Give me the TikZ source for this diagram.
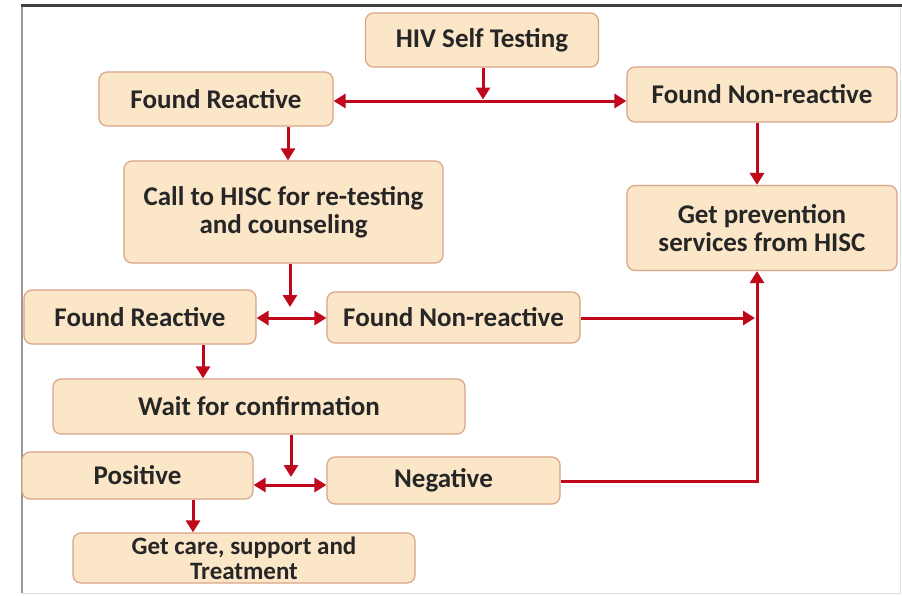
\documentclass[tikz,border=0pt]{standalone}
\usepackage{fontspec}
\setmainfont{Carlito}
\usetikzlibrary{arrows.meta}
\definecolor{boxfill}{HTML}{FCE6C8}
\definecolor{boxline}{HTML}{D9A487}
\definecolor{arrred}{HTML}{C0081C}
\definecolor{txt}{HTML}{262626}
\tikzset{
  box/.style={draw=boxline, fill=boxfill, line width=1.2pt, rounded corners=8pt,
    inner sep=0pt, align=center, text=txt,
    font=\fontsize{27}{28}\selectfont\bfseries},
  arr/.style={draw=arrred, line width=3pt, -{Triangle[length=12pt,width=14pt]}},
  darr/.style={draw=arrred, line width=3pt, {Triangle[length=12pt,width=14pt]}-{Triangle[length=12pt,width=14pt]}},
  plain/.style={draw=arrred, line width=3pt}
}
\begin{document}
\begin{tikzpicture}[x=1pt,y=-1pt]
\useasboundingbox (0,0) rectangle (902,595);
\fill[white] (0,0) rectangle (902,595);
% frame
\draw[gray!80, line width=1.8pt] (22,5) -- (22,593);
\draw[gray!25, line width=1pt] (22,593) -- (900,593) -- (900,5);
\draw[black!75, line width=3pt] (21,5) -- (902,5);

% nodes
\node[box, minimum width=233pt, minimum height=54pt] (hiv) at (482,40) {HIV Self Testing};
\node[box, minimum width=234pt, minimum height=54pt] (fr1) at (216,99) {Found Reactive};
\node[box, minimum width=270pt, minimum height=55pt] (fn1) at (762,94.5) {Found Non-reactive};
\node[box, minimum width=319pt, minimum height=102pt] (call) at (283.5,212) {Call to HISC for re-testing\\and counseling};
\node[box, minimum width=270pt, minimum height=85pt] (prev) at (762,228) {Get prevention\\services from HISC};
\node[box, minimum width=232pt, minimum height=54pt] (fr2) at (140,317) {Found Reactive};
\node[box, minimum width=253pt, minimum height=51pt] (fn2) at (453.5,317.5) {Found Non-reactive};
\node[box, minimum width=412pt, minimum height=55pt] (wait) at (259,406.5) {Wait for confirmation};
\node[box, minimum width=231pt, minimum height=47pt] (pos) at (137.5,475.5) {Positive};
\node[box, minimum width=233pt, minimum height=47pt] (neg) at (443.5,480.5) {Negative};
\node[box, minimum width=342pt, minimum height=50pt, font=\fontsize{25}{25}\selectfont\bfseries] (care) at (244,558) {Get care, support and\\Treatment};

% helper coordinates
\coordinate (j1) at (483,101);
\coordinate (c288) at (288,0);
\coordinate (c757) at (757,0);
\coordinate (j2) at (290,318);
\coordinate (j2t) at (290,307);
\coordinate (k1) at (755,318);
\coordinate (c203) at (203,0);
\coordinate (j3) at (291,485);
\coordinate (j3t) at (291,477);
\coordinate (c193) at (193,0);
\coordinate (k2) at (757,481);

% connectors
\draw[arr] (hiv.south -| j1) -- ([yshift=1.5pt]j1);
\draw[darr] (fr1.east |- j1) -- (fn1.west |- j1);
\draw[arr] (fr1.south -| c288) -- (call.north -| c288);
\draw[arr] (fn1.south -| c757) -- (prev.north -| c757);
\draw[arr] (call.south -| j2) -- (j2t);
\draw[darr] (fr2.east |- j2) -- (fn2.west |- j2);
\draw[arr] (fn2.east |- j2) -- (k1);
\draw[arr] (fr2.south -| c203) -- (wait.north -| c203);
\draw[arr] (wait.south -| j3) -- (j3t);
\draw[darr] (pos.east |- j3) -- (neg.west |- j3);
\draw[arr] (pos.south -| c193) -- (care.north -| c193);
\draw[arr] (neg.east |- k2) -- (k2) -- (prev.south -| k2);
\end{tikzpicture}
\end{document}
